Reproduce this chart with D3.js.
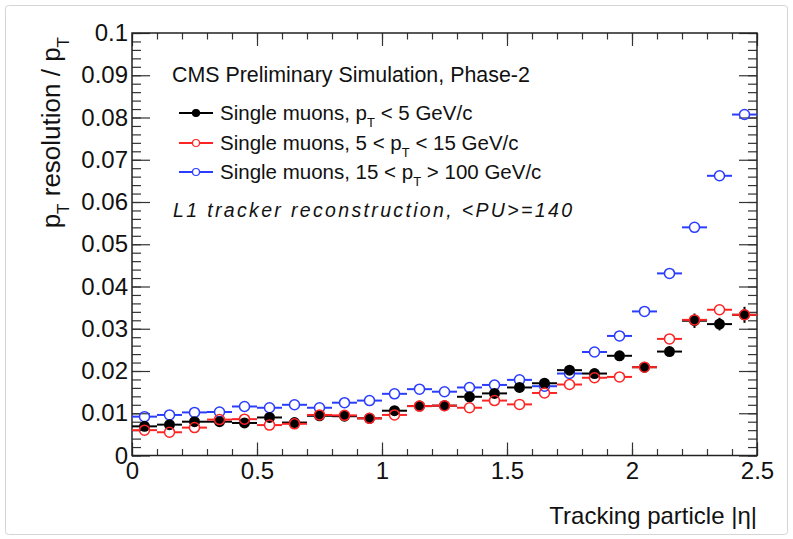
<!DOCTYPE html>
<html>
<head>
<meta charset="utf-8">
<script src="https://cdn.jsdelivr.net/npm/d3@7/dist/d3.min.js"></script>
<style>
body { margin: 0; background: #fff; }
svg { font-family: "Liberation Sans", Arial, Helvetica, sans-serif; }
</style>
</head>
<body>
<svg id="chart" width="793" height="539"></svg>
<script>
// bin centres in |eta|, bin width 0.1
var etaBins = [0.05, 0.15, 0.25, 0.35, 0.45, 0.55, 0.65, 0.75, 0.85, 0.95,
               1.05, 1.15, 1.25, 1.35, 1.45, 1.55, 1.65, 1.75, 1.85, 1.95,
               2.05, 2.15, 2.25, 2.35, 2.45];
var binHalfWidth = 0.05;

// pT < 5 GeV/c (black, filled)
var lowPt = [0.0069, 0.0073, 0.0080, 0.0080, 0.0077, 0.0090, 0.0078, 0.0094, 0.0093, 0.0088,
             0.0106, 0.0117, 0.0118, 0.0139, 0.0147, 0.0161, 0.0171, 0.0202, 0.0194, 0.0236,
             0.0209, 0.0246, 0.0319, 0.0311, 0.0333];
var lowPtErr = [0.0003, 0.0003, 0.0003, 0.0003, 0.0003, 0.0003, 0.0003, 0.0003, 0.0003, 0.0003,
                0.0004, 0.0004, 0.0004, 0.0005, 0.0005, 0.0005, 0.0006, 0.0007, 0.0007, 0.0008,
                0.0009, 0.0011, 0.0017, 0.0015, 0.0019];

// 5 < pT < 15 GeV/c (red, open)
var midPt = [0.0060, 0.0055, 0.0066, 0.0085, 0.0086, 0.0072, 0.0075, 0.0096, 0.0095, 0.0088,
             0.0096, 0.0117, 0.0118, 0.0113, 0.0130, 0.0121, 0.0148, 0.0168, 0.0184, 0.0186,
             0.0209, 0.0276, 0.0321, 0.0345, 0.0333];
var midPtErr = [0.0002, 0.0002, 0.0002, 0.0002, 0.0002, 0.0002, 0.0002, 0.0002, 0.0002, 0.0002,
                0.0002, 0.0003, 0.0003, 0.0003, 0.0003, 0.0003, 0.0004, 0.0004, 0.0004, 0.0005,
                0.0005, 0.0006, 0.0008, 0.0008, 0.0009];

// 15 < pT < 100 GeV/c (blue, open)
var highPt = [0.0092, 0.0096, 0.0102, 0.0103, 0.0116, 0.0113, 0.0120, 0.0113, 0.0125, 0.0130,
              0.0146, 0.0157, 0.0151, 0.0161, 0.0167, 0.0179, 0.0164, 0.0194, 0.0245, 0.0283,
              0.0341, 0.0431, 0.0540, 0.0662, 0.0807];
var highPtErr = [0.0002, 0.0002, 0.0002, 0.0002, 0.0002, 0.0002, 0.0002, 0.0002, 0.0002, 0.0002,
                 0.0002, 0.0003, 0.0003, 0.0003, 0.0003, 0.0003, 0.0003, 0.0004, 0.0004, 0.0005,
                 0.0005, 0.0006, 0.0007, 0.0008, 0.0009];

var xTicks = [0, 0.5, 1, 1.5, 2, 2.5];
var yTicks = [0, 0.01, 0.02, 0.03, 0.04, 0.05, 0.06, 0.07, 0.08, 0.09, 0.1];

var legendNames = [
    ["Single muons, p", "T", " < 5 GeV/c"],
    ["Single muons, 5 < p", "T", " < 15 GeV/c"],
    ["Single muons, 15 < p", "T", " > 100 GeV/c"]
];

var frame = {left: 132, right: 757, top: 33, bottom: 455.5};
var markerR = 5;

var svg = d3.select("#chart");

// outer screenshot border
svg.append("rect")
    .attr("x", 5.5).attr("y", 5.5)
    .attr("width", 782).attr("height", 529)
    .attr("rx", 3)
    .attr("fill", "none")
    .attr("stroke", "#d4d4d4")
    .attr("stroke-width", 1);

var x = d3.scaleLinear().domain([0, 2.5]).range([frame.left, frame.right]);
var y = d3.scaleLinear().domain([0, 0.1]).range([frame.bottom, frame.top]);

function styleTicks(g) {
    g.select(".domain").remove();
    g.selectAll(".tick line").attr("stroke", "#333").attr("stroke-width", 1.2);
}

// minor ticks (all four sides, pointing inward)
svg.append("g").attr("transform", "translate(0," + frame.bottom + ")")
    .call(d3.axisBottom(x).tickValues(x.ticks(25)).tickSize(-6.5).tickFormat(""))
    .call(styleTicks);
svg.append("g").attr("transform", "translate(0," + frame.top + ")")
    .call(d3.axisTop(x).tickValues(x.ticks(25)).tickSize(-6.5).tickFormat(""))
    .call(styleTicks);
svg.append("g").attr("transform", "translate(" + frame.left + ",0)")
    .call(d3.axisLeft(y).tickValues(y.ticks(50)).tickSize(-9).tickFormat(""))
    .call(styleTicks);
svg.append("g").attr("transform", "translate(" + frame.right + ",0)")
    .call(d3.axisRight(y).tickValues(y.ticks(50)).tickSize(-9).tickFormat(""))
    .call(styleTicks);

// major ticks + labels
var xAxis = svg.append("g").attr("transform", "translate(0," + frame.bottom + ")")
    .call(d3.axisBottom(x).tickValues(xTicks).tickSize(-13).tickPadding(6)
        .tickFormat(function (d) { return String(d); }))
    .call(styleTicks);
xAxis.selectAll("text").attr("font-size", 24).attr("fill", "#111")
    .attr("font-family", "Liberation Sans, Arial, sans-serif");

var yAxis = svg.append("g").attr("transform", "translate(" + frame.left + ",0)")
    .call(d3.axisLeft(y).tickValues(yTicks).tickSize(-18).tickPadding(4)
        .tickFormat(function (d) { return String(d); }))
    .call(styleTicks);
yAxis.selectAll("text").attr("font-size", 24).attr("fill", "#111")
    .attr("font-family", "Liberation Sans, Arial, sans-serif");

svg.append("g").attr("transform", "translate(0," + frame.top + ")")
    .call(d3.axisTop(x).tickValues(xTicks).tickSize(-13).tickFormat(""))
    .call(styleTicks);
svg.append("g").attr("transform", "translate(" + frame.right + ",0)")
    .call(d3.axisRight(y).tickValues(yTicks).tickSize(-18).tickFormat(""))
    .call(styleTicks);

// frame box
svg.append("rect")
    .attr("x", frame.left).attr("y", frame.top)
    .attr("width", frame.right - frame.left)
    .attr("height", frame.bottom - frame.top)
    .attr("fill", "none")
    .attr("stroke", "#222")
    .attr("stroke-width", 1.5);

// axis titles
svg.append("text")
    .attr("x", frame.right).attr("y", 524)
    .attr("text-anchor", "end")
    .attr("font-size", 24)
    .attr("fill", "#111")
    .text("Tracking particle |\u03b7|");

var yTitle = svg.append("text")
    .attr("transform", "translate(60,37) rotate(-90)")
    .attr("text-anchor", "end")
    .attr("font-size", 26)
    .attr("fill", "#111");
yTitle.append("tspan").text("p");
yTitle.append("tspan").attr("font-size", 17).attr("dy", 9).text("T");
yTitle.append("tspan").attr("dy", -9).text(" resolution / p");
yTitle.append("tspan").attr("font-size", 17).attr("dy", 9).text("T");

// data points
function drawSeries(vals, errs, color, filled) {
    var g = svg.append("g");
    var pts = etaBins.map(function (eta, i) {
        return {eta: eta, v: vals[i], e: errs[i]};
    });

    var bins = g.selectAll("g.bin")
        .data(pts)
        .enter()
        .append("g")
        .attr("class", "bin");

    bins.append("line")
        .attr("x1", function (d) { return x(d.eta - binHalfWidth); })
        .attr("x2", function (d) { return x(d.eta) - markerR; })
        .attr("y1", function (d) { return y(d.v); })
        .attr("y2", function (d) { return y(d.v); })
        .attr("stroke", color).attr("stroke-width", 2);
    bins.append("line")
        .attr("x1", function (d) { return x(d.eta) + markerR; })
        .attr("x2", function (d) { return x(d.eta + binHalfWidth); })
        .attr("y1", function (d) { return y(d.v); })
        .attr("y2", function (d) { return y(d.v); })
        .attr("stroke", color).attr("stroke-width", 2);

    // vertical error only where it sticks out of the marker
    bins.filter(function (d) { return y(d.v) - y(d.v + d.e) > markerR; })
        .each(function (d) {
            var b = d3.select(this);
            b.append("line")
                .attr("x1", x(d.eta)).attr("x2", x(d.eta))
                .attr("y1", y(d.v + d.e)).attr("y2", y(d.v) - markerR)
                .attr("stroke", color).attr("stroke-width", 2);
            b.append("line")
                .attr("x1", x(d.eta)).attr("x2", x(d.eta))
                .attr("y1", y(d.v) + markerR).attr("y2", y(d.v - d.e))
                .attr("stroke", color).attr("stroke-width", 2);
        });

    bins.append("circle")
        .attr("cx", function (d) { return x(d.eta); })
        .attr("cy", function (d) { return y(d.v); })
        .attr("r", filled ? markerR + 0.5 : markerR)
        .attr("fill", filled ? color : "none")
        .attr("stroke", color)
        .attr("stroke-width", filled ? 0 : 1.5);
}

var seriesColors = ["#000000", "#ff2424", "#2a3dff"];

drawSeries(highPt, highPtErr, seriesColors[2], false);
drawSeries(lowPt, lowPtErr, seriesColors[0], true);
drawSeries(midPt, midPtErr, seriesColors[1], false);

// legend / labels
svg.append("text")
    .attr("x", 172).attr("y", 82)
    .attr("font-size", 21.4)
    .attr("fill", "#111")
    .text("CMS Preliminary Simulation, Phase-2");

var legendRows = [120, 150, 179];
legendNames.forEach(function (parts, i) {
    var by = legendRows[i];
    var cy = by - 7;
    svg.append("line")
        .attr("x1", 179).attr("x2", 213)
        .attr("y1", cy).attr("y2", cy)
        .attr("stroke", seriesColors[i]).attr("stroke-width", 2);
    svg.append("circle")
        .attr("cx", 196).attr("cy", cy).attr("r", 3.5)
        .attr("fill", i === 0 ? seriesColors[i] : "#fff")
        .attr("stroke", seriesColors[i]).attr("stroke-width", 1.2);
    var t = svg.append("text")
        .attr("x", 220).attr("y", by)
        .attr("font-size", 20.5)
        .attr("fill", "#111");
    t.append("tspan").text(parts[0]);
    t.append("tspan").attr("font-size", 13).attr("dy", 7).text(parts[1]);
    t.append("tspan").attr("dy", -7).text(parts[2]);
});

svg.append("text")
    .attr("x", 173).attr("y", 217)
    .attr("font-size", 19.5)
    .attr("font-style", "italic")
    .attr("fill", "#111")
    .attr("textLength", 399)
    .attr("lengthAdjust", "spacing")
    .text("L1 tracker reconstruction, <PU>=140");
</script>
</body>
</html>
